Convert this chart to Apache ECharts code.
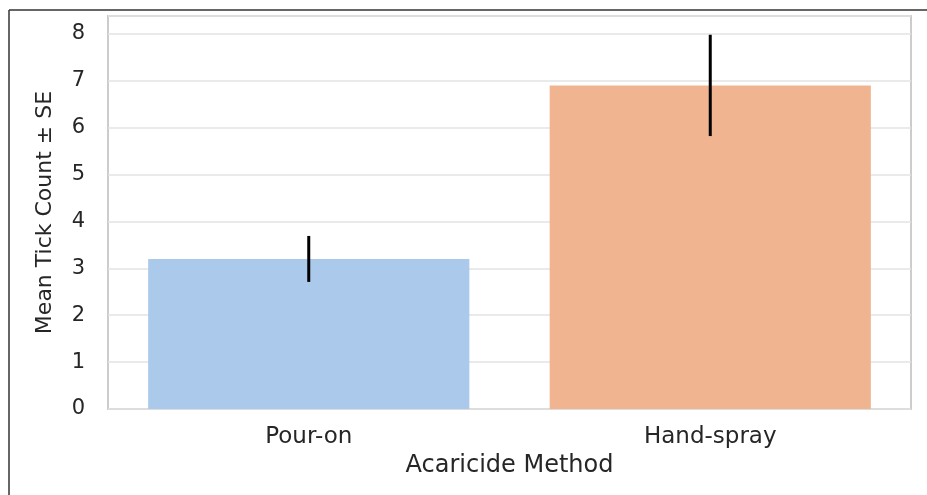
<!DOCTYPE html>
<html><head><meta charset="utf-8">
<script src="https://cdn.jsdelivr.net/npm/echarts@6/dist/echarts.min.js"></script>
<style>html,body{margin:0;padding:0;background:#fff}#c{width:927px;height:495px}</style>
</head><body><div id="c"></div>
<script>
const categories = ["Pour-on", "Hand-spray"];
const means = [3.2, 6.9];
const seValues = [0.49, 1.08];
const yTicks = [0,1,2,3,4,5,6,7,8];
const barColors = ["#abc9eb", "#f0b590"];

const chart = echarts.init(document.getElementById('c'));
const errData = categories.map((c,i)=>[i, means[i]-seValues[i], means[i]+seValues[i]]);
chart.setOption({
  animation:false,
  grid:{left:108,right:16,top:16,bottom:86,show:true,borderColor:'#cccccc',borderWidth:2,backgroundColor:'transparent'},
  xAxis:{type:'category',data:categories,axisTick:{show:false},axisLine:{show:false},
    axisLabel:{fontFamily:'DejaVu Sans',fontSize:23,color:'#262626',margin:17},
    name:'Acaricide Method',nameLocation:'middle',nameGap:42,
    nameTextStyle:{fontFamily:'DejaVu Sans',fontSize:24,color:'#262626'}},
  yAxis:{type:'value',min:0,max:8.38,interval:1,
    axisLabel:{fontFamily:'DejaVu Sans',fontSize:21,color:'#262626',margin:23,
      formatter:v=>yTicks.includes(v)?String(v):''},
    axisLine:{show:false},axisTick:{show:false},
    splitLine:{lineStyle:{color:'#e3e3e3',width:1.5}},
    name:'Mean Tick Count ± SE',nameLocation:'middle',nameGap:52,
    nameTextStyle:{fontFamily:'DejaVu Sans',fontSize:22,color:'#262626'}},
  series:[
    {type:'bar',barWidth:'80%',data:means.map((v,i)=>({value:v,itemStyle:{color:barColors[i]}}))},
    {type:'custom',data:errData,z:10,
     renderItem:(params,api)=>{
       const lo=api.coord([api.value(0),api.value(1)]);
       const hi=api.coord([api.value(0),api.value(2)]);
       return {type:'line',shape:{x1:lo[0],y1:lo[1],x2:hi[0],y2:hi[1]},style:{stroke:'#000',lineWidth:3}};
     }}
  ],
  graphic:[
    {type:'line',shape:{x1:9,y1:10,x2:927,y2:10},style:{stroke:'#333',lineWidth:1.5}},
    {type:'line',shape:{x1:9,y1:10,x2:9,y2:495},style:{stroke:'#333',lineWidth:1.5}}
  ]
});
</script></body></html>
